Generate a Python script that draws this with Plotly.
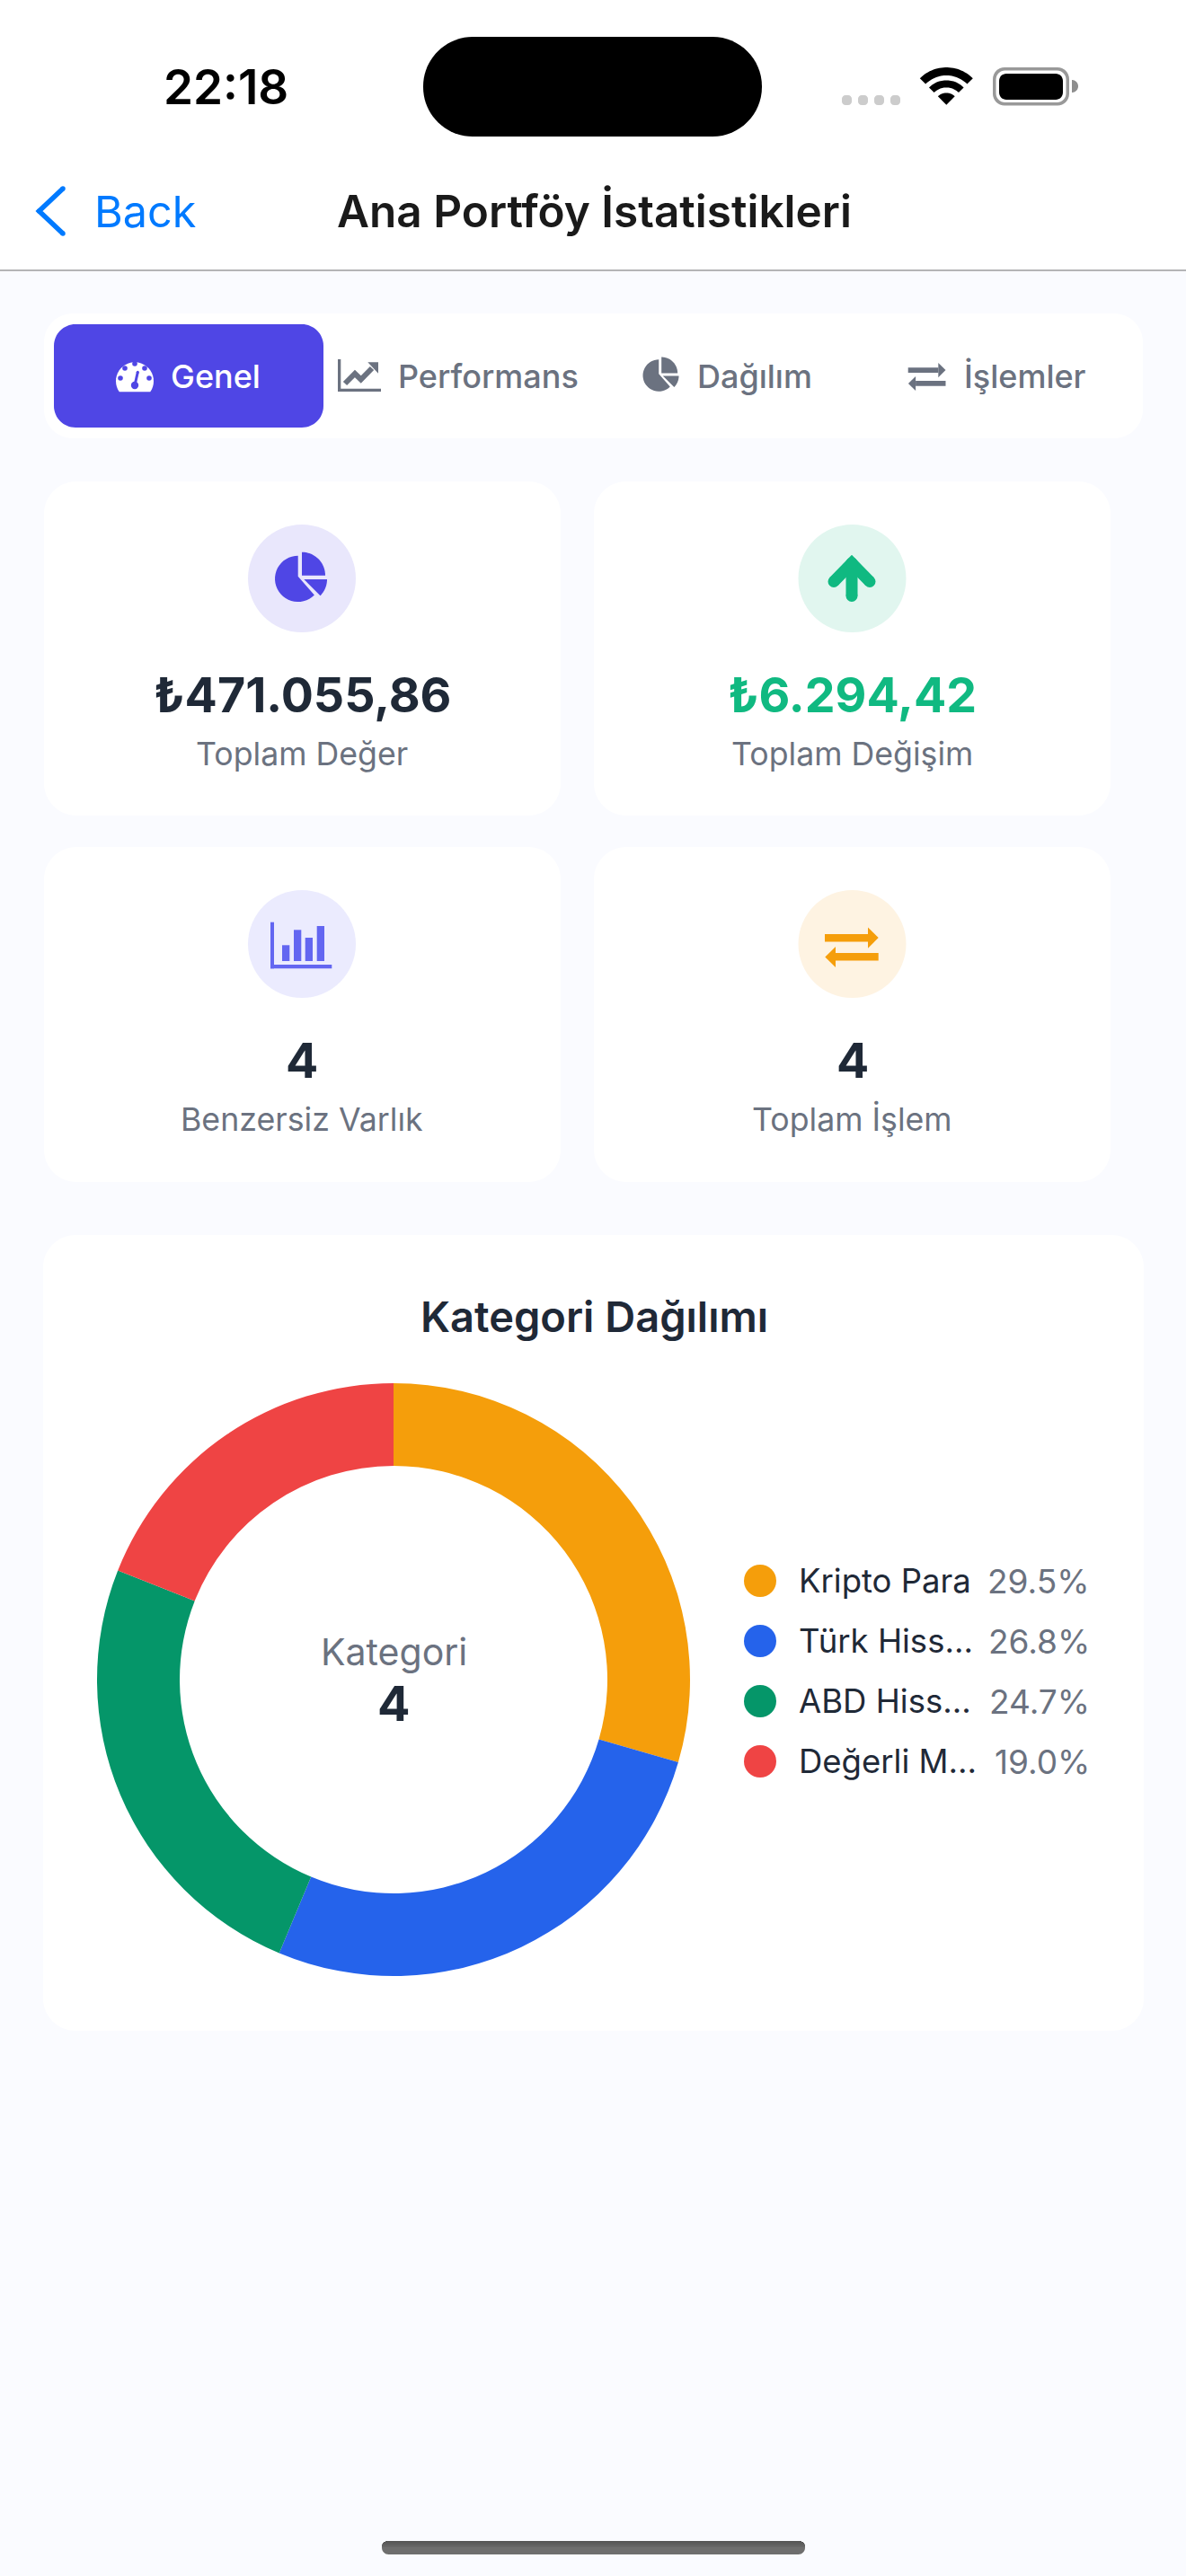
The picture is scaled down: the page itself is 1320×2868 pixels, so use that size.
import numpy as np
import plotly.graph_objects as go

# Donut data
categories = ["Kripto Para", "Türk Hiss...", "ABD Hiss...", "Değerli M..."]
shares = [29.5, 26.8, 24.7, 19.0]
cat_colors = ["#F59E0B", "#2563EB", "#059669", "#EF4444"]

# Tabs and stat cards
tab_labels = ["Genel", "Performans", "Dağılım", "İşlemler"]
card_values = ["₺471.055,86", "₺6.294,42", "4", "4"]
card_labels = ["Toplam Değer", "Toplam Değişim", "Benzersiz Varlık", "Toplam İşlem"]

W, H = 1320, 2868
BG = "#FAFBFF"
INDIGO = "#4F46E5"
GRAY = "#6B7280"
DARK = "#1F2937"
FONT = "Inter"

shapes = []
notes = []


def rrect(x0, y0, x1, y1, r, color):
    k = r * 0.45
    p = (f"M{x0+r},{y0} L{x1-r},{y0} C{x1-k},{y0} {x1},{y0+k} {x1},{y0+r} "
         f"L{x1},{y1-r} C{x1},{y1-k} {x1-k},{y1} {x1-r},{y1} "
         f"L{x0+r},{y1} C{x0+k},{y1} {x0},{y1-k} {x0},{y1-r} "
         f"L{x0},{y0+r} C{x0},{y0+k} {x0+k},{y0} {x0+r},{y0} Z")
    shapes.append(dict(type="path", path=p, fillcolor=color, line_width=0, layer="below"))


def rect(x0, y0, x1, y1, color):
    shapes.append(dict(type="rect", x0=x0, y0=y0, x1=x1, y1=y1, fillcolor=color,
                       line_width=0, layer="below"))


def circle(cx, cy, r, color):
    shapes.append(dict(type="circle", x0=cx-r, y0=cy-r, x1=cx+r, y1=cy+r, fillcolor=color,
                       line_width=0, layer="below"))


def poly(pts, color):
    p = "M" + " L".join(f"{x:.2f},{y:.2f}" for x, y in pts) + " Z"
    shapes.append(dict(type="path", path=p, fillcolor=color, line_width=0, layer="below"))


def stroke(pts, width, color):
    # polyline with round ends
    p = "M" + " L".join(f"{x:.2f},{y:.2f}" for x, y in pts)
    shapes.append(dict(type="path", path=p, line=dict(color=color, width=width), layer="below"))
    for x, y in pts:
        circle(x, y, width / 2, color)


def arc(cx, cy, r, a0, a1, n=30):
    # angles in degrees, 0 = right, clockwise on screen
    t = np.radians(np.linspace(a0, a1, n))
    return list(zip(cx + r * np.cos(t), cy + r * np.sin(t)))


def text(x, y, s, size, color, anchor="center", weight=400, family=FONT):
    notes.append(dict(x=x, y=y, text=s, showarrow=False, xanchor=anchor, yanchor="middle",
                      borderpad=0, font=dict(family=family, size=size, color=color, weight=weight)))


def pie_icon(cx, cy, s, color):
    poly(arc(cx - 3.3*s, cy + 2.2*s, 25.7*s, -90, -315) + [(cx - 3.3*s, cy - 0.5*s)], color)
    poly(arc(cx + 1*s, cy - 1.5*s, 26*s, -90, 0) + [(cx + 1*s, cy - 1.5*s)], color)
    poly(arc(cx + 3.3*s, cy + 2.8*s, 25.7*s, 0, 45) + [(cx + 3.3*s, cy + 2.8*s)], color)


def swap_icon(cx, cy, s, color):
    rect(cx - 30*s, cy - 14.7*s, cx + 18*s, cy - 6.3*s, color)
    poly([(cx + 18*s, cy - 22.3*s), (cx + 29.7*s, cy - 10.7*s), (cx + 18*s, cy + 1*s)], color)
    rect(cx - 18*s, cy + 6.3*s, cx + 29.7*s, cy + 14.7*s, color)
    poly([(cx - 18*s, cy - 0.7*s), (cx - 29.7*s, cy + 10.7*s), (cx - 18*s, cy + 22.3*s)], color)


# top bar
rect(0, 0, W, 301, "#FFFFFF")
rect(0, 300, W, 302, "#B4B4B6")
text(251, 97, "22:18", 53, "#000000", weight=600)
rrect(471, 41, 848, 152, 55, "#000000")
for x0 in [937, 955, 973, 991]:
    rrect(x0, 106, x0 + 11, 117, 4, "#CCCCCC")
apex = (1053.3, 116.7)
poly(arc(*apex, 41.7, -135, -45) + arc(*apex, 32.7, -45, -135), "#000000")
poly(arc(*apex, 27.3, -135, -45) + arc(*apex, 19.3, -45, -135), "#000000")
poly(arc(*apex, 13.3, -135, -45) + [apex], "#000000")
rrect(1105, 75, 1190, 117.5, 13, "#999999")
rrect(1108.5, 78.5, 1186.5, 114, 10, "#FFFFFF")
rrect(1112, 82, 1183, 111, 8, "#000000")
poly(arc(1193, 96, 7, -90, 90), "#8E8E8E")
stroke([(70, 210), (43.5, 235), (70, 260)], 5.5, "#007AFF")
text(104, 235, "Back", 48.5, "#007AFF", anchor="left")
text(661, 235, "Ana Portföy İstatistikleri", 49.5, "#1A1A1A", weight=600)

# tab bar
rrect(49, 349, 1272, 488, 32, "#FFFFFF")
rrect(60, 361, 360, 476, 24, INDIGO)
poly(arc(150, 424.3, 21, 145, 395), "#FFFFFF")
for dx, dy in [(0, -20), (-11, -15), (11, -15), (-16, -4), (16, -4)]:
    circle(150 + dx, 425 + dy, 2.8, INDIGO)
stroke([(153.3, 414.3), (150, 429)], 3, INDIGO)
circle(150, 429, 4.2, INDIGO)
text(189, 419, tab_labels[0], 36, "#FFFFFF", anchor="left", weight=500)
rect(376, 400, 379.3, 436, GRAY)
rect(376, 432.7, 424, 436, GRAY)
shapes.append(dict(type="path", path="M384,427 L395,416 L401.7,422.5 L414,410",
                   line=dict(color=GRAY, width=6), layer="below"))
poly([(409.3, 403.3), (421, 403.3), (421, 415.7)], GRAY)
text(442, 419, tab_labels[1], 36, GRAY, anchor="left", weight=500)
pie_icon(735.5, 416.5, 0.69, GRAY)
text(775, 419, tab_labels[2], 36, GRAY, anchor="left", weight=500)
swap_icon(1031.7, 419.5, 0.70, GRAY)
text(1072, 419, tab_labels[3], 36, GRAY, anchor="left", weight=500)

# stat cards
card_x = [(49, 624), (661, 1236)]
card_y = [(536, 908), (943, 1316)]
centers = [336, 948.5]
badge = ["#E9E7FC", "#E1F6EF", "#EBEBFE", "#FEF3E2"]
value_colors = [DARK, "#10B981", DARK, DARK]
for i in range(4):
    cx0, cx1 = card_x[i % 2]
    cy0, cy1 = card_y[i // 2]
    rrect(cx0, cy0, cx1, cy1, 36, "#FFFFFF")
    c = centers[i % 2]
    circle(c, cy0 + 108, 60, badge[i])
    text(c, cy0 + 237, card_values[i], 53.7, value_colors[i], weight=700)
    text(c, cy0 + 303, card_labels[i], 35.7, GRAY)

pie_icon(335, 642.2, 1, INDIGO)
stroke([(928, 647.5), (948, 627), (968, 647.5)], 13, "#10B981")
stroke([(948, 627), (948, 663.5)], 13, "#10B981")
# bars icon
BARS = "#6366F1"
rect(301, 1026.7, 305, 1078.3, BARS)
rect(301, 1074, 369.3, 1078.3, BARS)
for x0, y0 in [(314, 1052.3), (327, 1035.3), (339.7, 1044), (352.7, 1031)]:
    rect(x0, y0, x0 + 8.3, 1070, BARS)
swap_icon(948, 1054.7, 1, "#F59E0B")

# donut card
rrect(48, 1375, 1273, 2261, 36, "#FFFFFF")
text(661, 1465, "Kategori Dağılımı", 47, DARK, weight=600)
text(438, 1839, "Kategori", 41, GRAY)
text(438, 1896, "4", 54, DARK, weight=700)

legend_y = [1760, 1827, 1894, 1961]
for lbl, pct, y in zip(categories, shares, legend_y):
    text(888, y, lbl, 36.5, DARK, anchor="left")
    text(1214, y, f"{pct:.1f}%", 37, GRAY, anchor="right")

# home bar, darker at the top
rrect(425, 2829, 896, 2844, 7.5, "#6E6E6E")
for i in range(7):
    inset = [4, 2, 1, 0.5, 0, 0, 0][i]
    g = 0x55 + i * 3
    rect(425 + inset, 2829 + i, 896 - inset, 2830 + i, f"rgb({g},{g},{g})")

fig = go.Figure()
fig.add_trace(go.Pie(
    labels=categories,
    values=shares,
    sort=False,
    direction="clockwise",
    rotation=0,
    hole=238 / 330,
    marker=dict(colors=cat_colors, line=dict(width=0)),
    textinfo="none",
    hoverinfo="label+percent",
    showlegend=False,
    domain=dict(x=[(438 - 330) / W, (438 + 330) / W],
                y=[1 - (1870 + 330) / H, 1 - (1870 - 330) / H]),
))
# legend dots
fig.add_trace(go.Scatter(
    x=[846] * len(categories),
    y=legend_y,
    mode="markers",
    marker=dict(size=36, color=cat_colors, line=dict(width=0)),
    hovertext=categories,
    hoverinfo="text",
    showlegend=False,
))

fig.update_layout(
    width=W,
    height=H,
    autosize=False,
    margin=dict(l=0, r=0, t=0, b=0, pad=0),
    paper_bgcolor=BG,
    plot_bgcolor="rgba(0,0,0,0)",
    shapes=shapes,
    annotations=notes,
    showlegend=False,
    xaxis=dict(visible=False, range=[0, W], domain=[0, 1], fixedrange=True),
    yaxis=dict(visible=False, range=[H, 0], domain=[0, 1], fixedrange=True),
    font=dict(family=FONT),
)

fig.write_html("out.html", config=dict(displayModeBar=False),
               post_script="document.body.style.margin='0';document.body.style.overflow='hidden';")
